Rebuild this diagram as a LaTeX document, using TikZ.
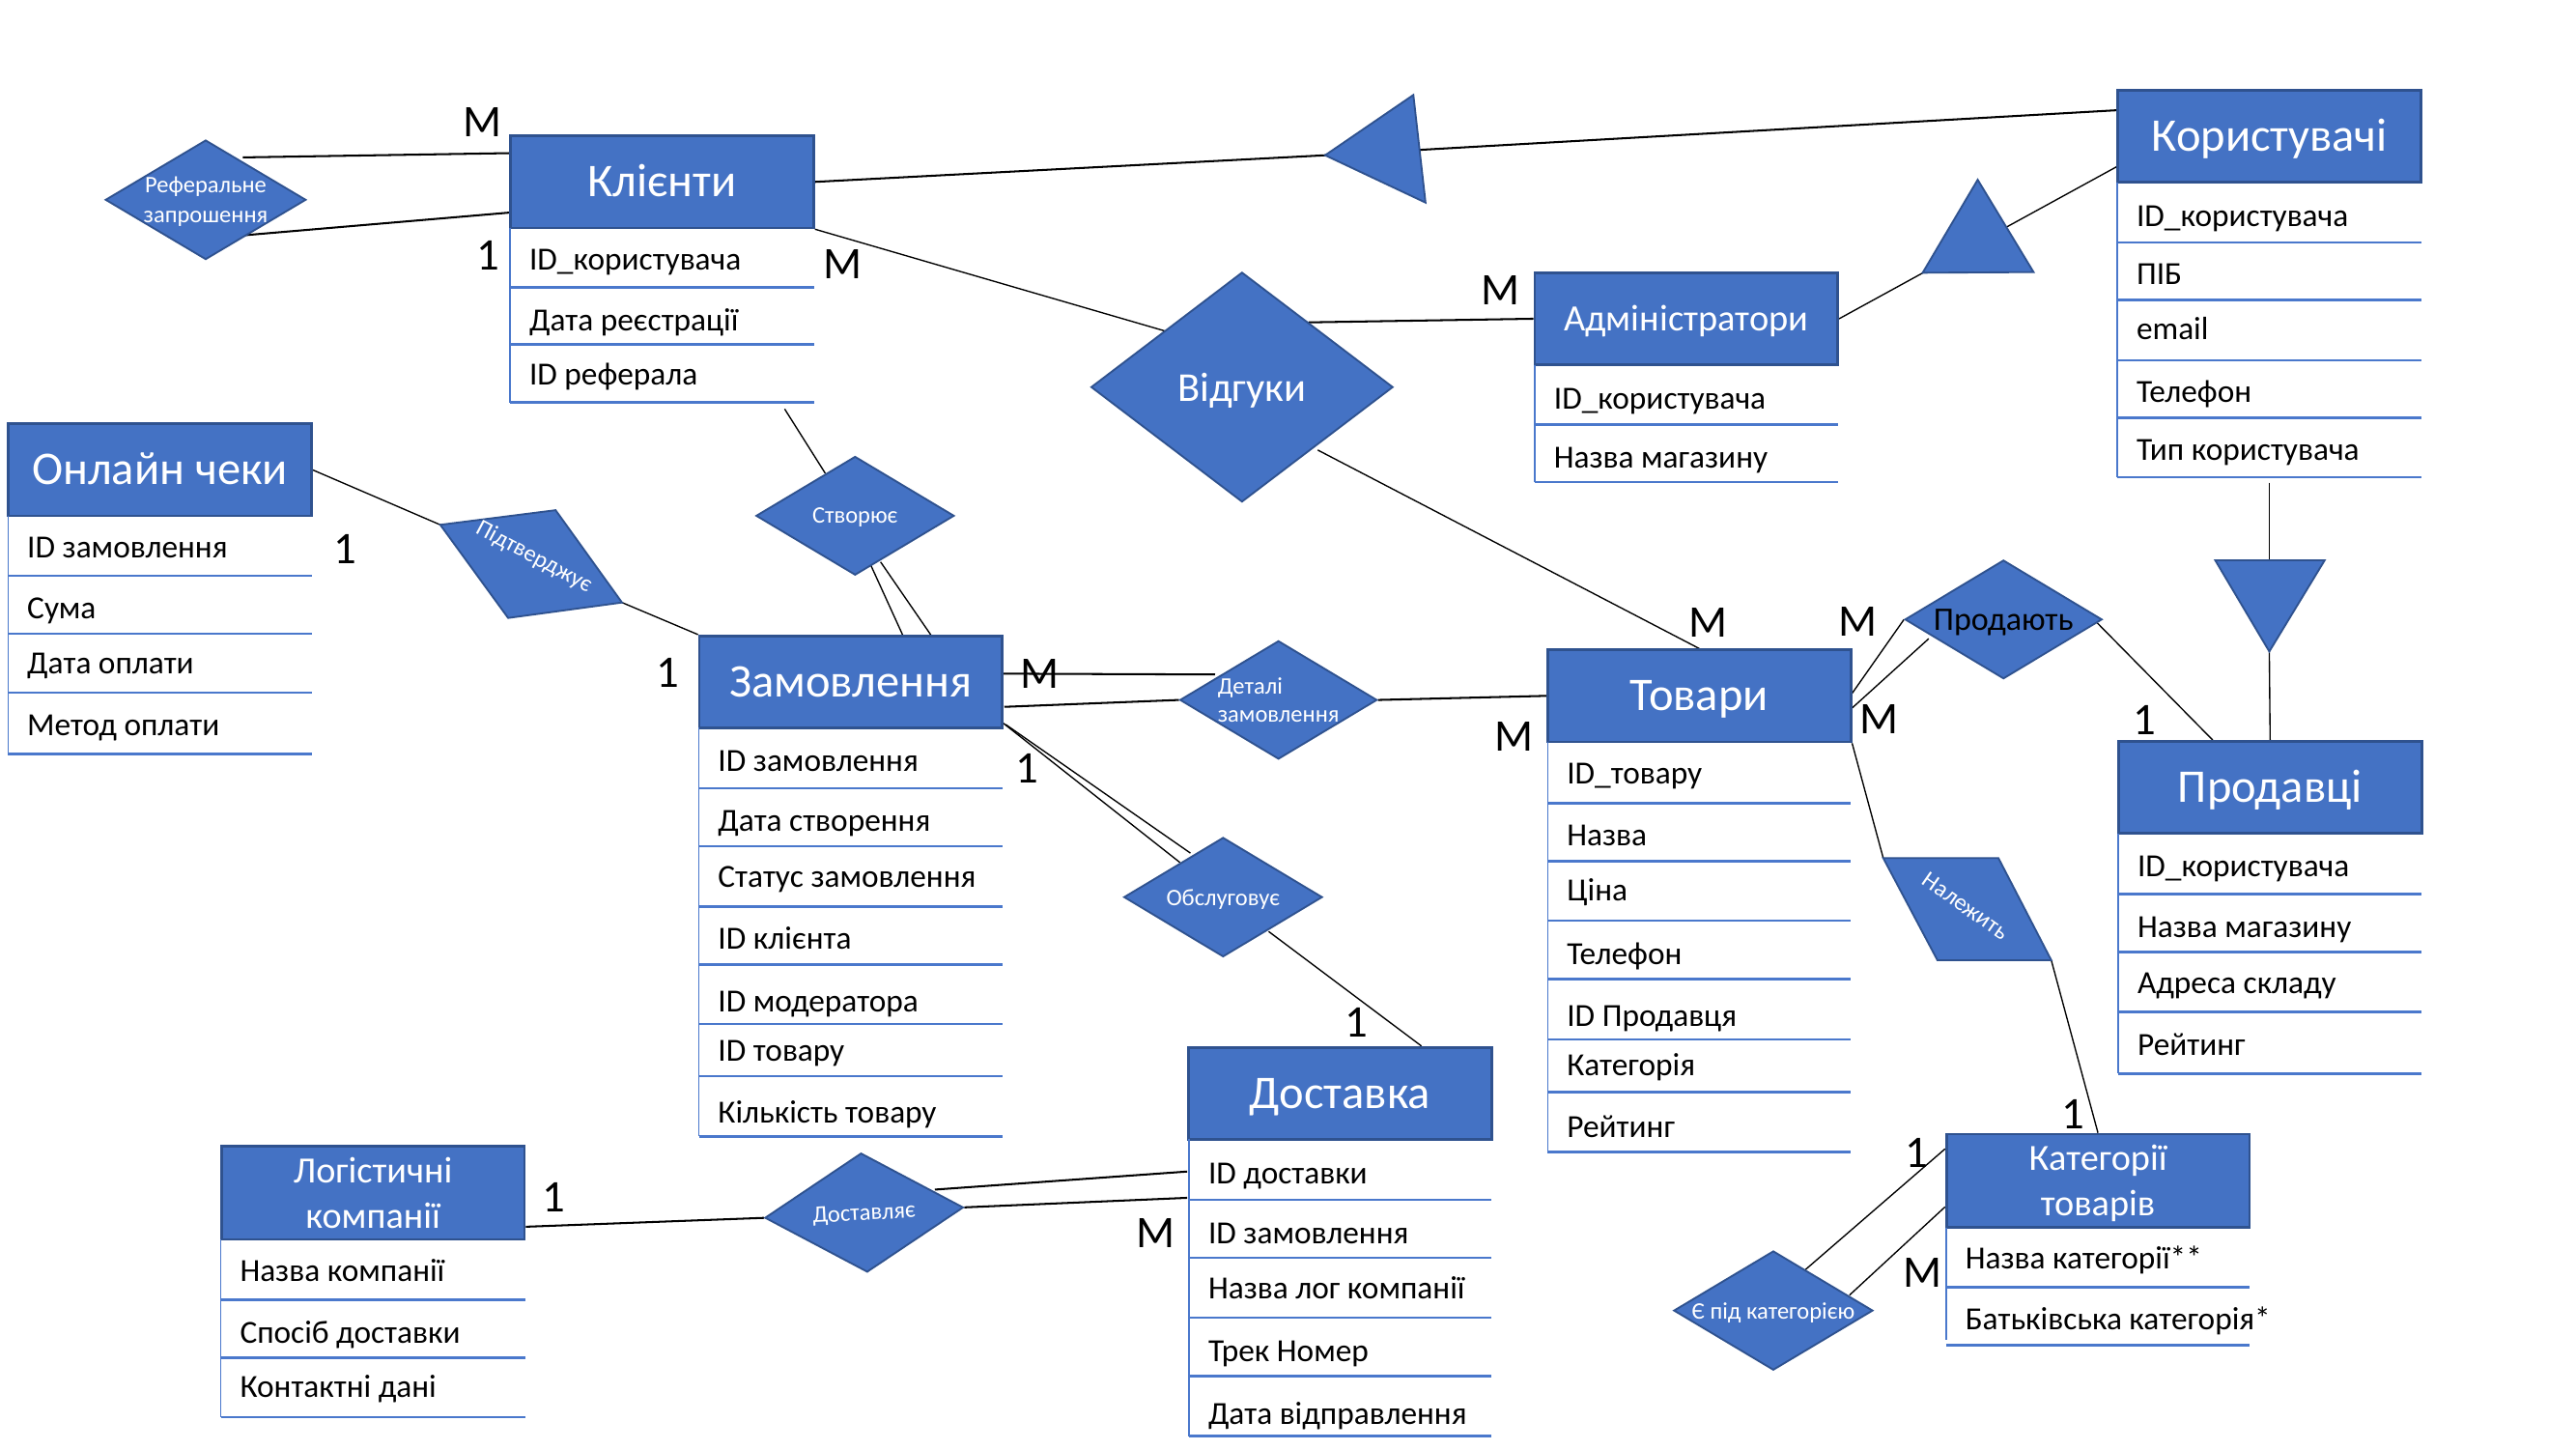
\documentclass[tikz,border=0pt]{standalone}
\usepackage{fontspec}
\setmainfont{Carlito}
\usetikzlibrary{shapes.geometric,backgrounds}
\definecolor{entfill}{HTML}{4472C4}
\definecolor{entline}{HTML}{2F528F}
\definecolor{rowline}{HTML}{4A78CC}

% attribute rows under an entity header:
% #1 name prefix, #2 left x, #3 right x, #4 header bottom y, #5 last line y, #6 rows text/centre y/rule y
\newcommand{\attrrows}[6]{%
  \draw[vline] (#2,#4) -- (#2,#5);
  \foreach \t/\ty/\sy [count=\i] in {#6} {
    \node[attr] (#1-\i) at (#2+11.5,\ty+6.1) {\t};
    \draw[rowrule] (#2,\sy) -- (#3,\sy);
  }%
}

\tikzset{
  ent/.style={draw=entline, fill=entfill, line width=1.6pt, text=white,
    minimum width=184.5pt, minimum height=56pt, inner sep=0pt,
    font=\fontsize{28.5}{34}\selectfont, text height=18pt, text depth=0pt},
  enttwo/.style={draw=entline, fill=entfill, line width=1.6pt, text=white,
    minimum width=184.5pt, minimum height=56.5pt, inner sep=0pt, align=center,
    font=\fontsize{22.5}{27.4}\selectfont, text depth=0pt},
  attr/.style={anchor=base west, inner sep=0pt, font=\fontsize{19.6}{23}\selectfont},
  rowrule/.style={draw=rowline, line width=1.5pt},
  vline/.style={draw=rowline, line width=0.8pt},
  rel/.style={diamond, aspect=1.68, draw=entline, fill=entfill, line width=1.1pt, text=white,
    inner sep=0pt, align=center, text depth=0pt,
    font=\fontsize{14.4}{18}\selectfont},
  rellabel/.style={inner sep=0pt, text=white, font=\fontsize{14.4}{18}\selectfont},
  isa/.style={draw=entline, fill=entfill, line width=1.1pt, line join=miter},
  conn/.style={draw=black, line width=0.8pt},
  heavy/.style={draw=black, line width=1.2pt},
  card/.style={inner sep=0pt, font=\fontsize{27.5}{30}\selectfont}
}

\begin{document}
\begin{tikzpicture}[x=1pt,y=-1pt]
\path[use as bounding box] (0,0) rectangle (1568,882);

% ---------- entity headers ----------
\node[ent] (klienty) at (403,110.7) {Клієнти};
\node[ent] (cheky) at (97.3,286) {Онлайн чеки};
\node[ent] (zamovl) at (517.9,415) {Замовлення};
\node[ent, font=\fontsize{22.6}{26}\selectfont, text height=14.2pt] (admin) at (1026.4,194) {Адміністратори};
\node[ent] (korys) at (1381.4,83) {Користувачі};
\node[ent] (tovary) at (1034.3,423.5) {Товари};
\node[ent] (prodav) at (1381.8,479.2) {Продавці};
\node[ent] (dostav) at (815.7,665.4) {Доставка};
\node[enttwo] (logist) at (227,726) {Логістичні\\компанії};
\node[enttwo] (kateg) at (1277,718.5) {Категорії\\товарів};

% ---------- attribute lists ----------
\attrrows{kl}{310.5}{495.4}{138.5}{245}{ID\_користувача/158.4/175, Дата реєстрації/195.5/209.5, ID реферала/228/245}
\attrrows{ch}{4.9}{189.7}{314}{459}{ID замовлення/333.4/350.3, Сума/370.2/385.6, Дата оплати/404.2/421.5, Метод оплати/441.5/459}
\attrrows{zm}{425.4}{610.3}{443}{691.6}{ID замовлення/463.2/479.7, Дата створення/500/515, Статус замовлення/534/551.7, ID клієнта/571.7/587, ID модератора/609.8/623.2, ID товару/640/655, Кількість товару/677.5/691.6}
\attrrows{ad}{934.2}{1118.6}{222}{293.3}{ID\_користувача/242.8/258.3, Назва магазину/278.7/293.3}
\attrrows{ks}{1288.8}{1474}{111}{290.4}{ID\_користувача/131.5/147.6, ПІБ/167/182.5, email/200.7/219.2, Телефон/238.5/254.3, Тип користувача/273.8/290.4}
\attrrows{tv}{942.1}{1126.5}{451.4}{701}{ID\_товару/470.9/488.7, Назва/508.8/524.1, Ціна/542.1/560.4, Телефон/581.2/595.8, ID Продавця/618.5/632.6, Категорія/648.5/664.8, Рейтинг/686.1/701}
\attrrows{pr}{1289.4}{1474.2}{507.5}{653.4}{ID\_користувача/527.7/544.1, Назва магазину/564.4/579.5, Адреса складу/598.5/616, Рейтинг/636/653.4}
\attrrows{ds}{723.8}{907.6}{693.3}{874}{ID доставки/714.3/730.3, ID замовлення/751.1/765.6, Назва лог компанії/784.2/802, Трек Номер/822.6/837.5, Дата відправлення/860.9/874}
\attrrows{lg}{134.4}{319.7}{754.5}{862.6}{Назва компанії/774/791.1, Спосіб доставки/811.3/826.4, Контактні дані/844.6/862.6}
\attrrows{kt}{1184.6}{1369.4}{747}{815.5}{Назва категорії**/766.2/783.5, Батьківська категорія*/803.4/818.7}

% ---------- relationships ----------
\node[rel, minimum width=120.8pt, minimum height=71pt] (referal) at (125.2,121.6) {Реферальне\\запрошення};
\node[rel, aspect=1.315, minimum width=183.8pt, minimum height=139.8pt, font=\fontsize{25}{30}\selectfont] (vidguky) at (756,235.6) {Відгуки};
\node[rel, minimum width=120.6pt, minimum height=72.2pt] (stvor) at (520.5,313.9) {Створює};
\node[rel, minimum width=120pt, minimum height=72pt, align=left, font=\fontsize{14.4}{17.5}\selectfont] (detali) at (778.2,426) {Деталі\\замовлення};
\node[rel, minimum width=120.8pt, minimum height=72.6pt] (obslug) at (744.5,546) {Обслуговує};
\node[rel, minimum width=120pt, minimum height=72.2pt, text=black, font=\fontsize{20}{23}\selectfont] (prodaut) at (1219.5,377) {Продають};
\node[rel, minimum width=121.2pt, minimum height=72.5pt] (pidkat) at (1079.4,797.6) {Є під категорією};
\node[rel, minimum width=121pt, minimum height=72.5pt, rotate=3] (dostavl) at (526,738) {Доставляє};

% slanted relationship boxes
\coordinate (pt1) at (268,319.4);
\coordinate (pt2) at (338.2,310.5);
\coordinate (pt3) at (378.6,366.7);
\coordinate (pt4) at (309.3,376.1);
\filldraw[isa] (pt1) -- (pt2) -- (pt3) -- (pt4) -- cycle;
\node[rellabel, rotate=-28] (pidtv) at (325,339) {Підтверджує};

\coordinate (nl1) at (1146.3,522.2);
\coordinate (nl2) at (1216.4,522.2);
\coordinate (nl3) at (1248.6,584.4);
\coordinate (nl4) at (1179.3,584.4);
\filldraw[isa] (nl1) -- (nl2) -- (nl3) -- (nl4) -- cycle;
\node[rellabel, rotate=-35] (nalezh) at (1196.6,551.4) {Належить};

% generalisation triangles
\coordinate (t1l) at (806.6,94.5);
\coordinate (t1t) at (860.3,57.8);
\coordinate (t1b) at (867.7,123.3);
\coordinate (t2t) at (1203.8,109.4);
\coordinate (t2l) at (1170.3,166);
\coordinate (t2r) at (1237.8,165.6);
\coordinate (t3l) at (1348.4,341);
\coordinate (t3r) at (1415,341);
\coordinate (t3b) at (1381.3,396.5);
\coordinate (t3top) at (1381.3,341);
\coordinate (korys-end) at (1381.3,293.7);
\coordinate (klienty-end) at (477.6,248.9);

\filldraw[isa] (t1l) -- (t1t) -- (t1b) -- cycle;
\filldraw[isa] (t2t) -- (t2l) -- (t2r) -- cycle;
\filldraw[isa] (t3l) -- (t3r) -- (t3b) -- cycle;

% ---------- connectors ----------
\begin{scope}[on background layer]
\fill[white] (0,0) rectangle (1568,882);
\draw[heavy] ([shift={(22.6,-25.8)}]referal.center) -- ([shift={(0,-17.5)}]klienty.west);
\draw[heavy] ([shift={(23.3,21.6)}]referal.center) -- ([shift={(0,18.7)}]klienty.west);
\draw[heavy] (klienty.east) -- (t1l);
\draw[heavy] (t1l) -- ([shift={(0,-15.9)}]korys.west);
\draw[conn] (klienty.south east) -- ([shift={(-45,-33.6)}]vidguky.center);
\draw[heavy] ([shift={(40.5,-39.4)}]vidguky.center) -- (admin.west);
\draw[conn] ([shift={(46.1,38.3)}]vidguky.center) -- (tovary.north);
\draw[conn] (admin.east) -- ([shift={(0,18.5)}]korys.west);
\draw[conn] (korys-end) -- (t3top);
\draw[conn] (t3b) -- (prodav.north);
\draw[conn] (klienty-end) -- ([shift={(-18.2,-25.9)}]stvor.center);
\draw[conn] ([shift={(8.2,27.1)}]stvor.center) -- ([shift={(31.8,-28)}]zamovl.center);
\draw[conn] ([shift={(15.5,28.1)}]stvor.center) -- ([shift={(49.1,-28)}]zamovl.center);
\draw[conn] (cheky.east) -- (pt1);
\draw[conn] (pt3) -- (zamovl.north west);
\draw[heavy] ([shift={(91.2,-5)}]zamovl.center) -- ([shift={(-38.6,-15.5)}]detali.center);
\draw[heavy] ([shift={(93.4,15.2)}]zamovl.center) -- (detali.west);
\draw[heavy] (detali.east) -- (tovary.west);
\draw[conn] ([shift={(91.2,23.9)}]zamovl.center) -- ([shift={(-26.3,-21.1)}]obslug.center);
\draw[conn] ([shift={(94.2,25.9)}]zamovl.center) -- ([shift={(-19.9,-26.8)}]obslug.center);
\draw[conn] ([shift={(27.7,20.9)}]obslug.center) -- ([shift={(49.5,0)}]dostav.north);
\draw[conn] ([shift={(0,-1.5)}]tovary.east) -- (prodaut.west);
\draw[conn] ([shift={(-6.5,13.3)}]tovary.east) -- ([shift={(-45.5,11.7)}]prodaut.center);
\draw[conn] ([shift={(54,-1)}]prodaut.center) -- ([shift={(58.1,0)}]prodav.north west);
\draw[conn] (tovary.south east) -- (nl1);
\draw[conn] (nl3) -- (kateg.north);
\draw[conn] ([shift={(18.4,-23.9)}]pidkat.center) -- ([shift={(0,-19.3)}]kateg.west);
\draw[conn] ([shift={(46.4,-9.4)}]pidkat.center) -- ([shift={(0,16)}]kateg.west);
\draw[heavy] ([shift={(0,20.6)}]logist.east) -- (dostavl.west);
\draw[heavy] ([shift={(43,-14)}]dostavl.center) -- ([shift={(0,47.6)}]dostav.west);
\draw[heavy] (dostavl.east) -- ([shift={(0,63.6)}]dostav.west);
\end{scope}

% ---------- cardinalities ----------
\node[card] (m1) at (293.6,74.4) {M};
\node[card] (o1) at (297,155.5) {1};
\node[card] (m2) at (513,161) {M};
\node[card] (m3) at (913.5,176.7) {M};
\node[card] (o2) at (210.3,334.3) {1};
\node[card] (o3) at (406.2,409.5) {1};
\node[card] (m4) at (632.7,410) {M};
\node[card] (o4) at (625.2,467.7) {1};
\node[card] (m5) at (921.4,448) {M};
\node[card] (m6) at (1039.9,379) {M};
\node[card] (m7) at (1131.1,378.3) {M};
\node[card] (m8) at (1143.5,438) {M};
\node[card] (o5) at (1305.1,438.5) {1};
\node[card] (o6) at (1261.8,678.2) {1};
\node[card] (o7) at (825.5,622) {1};
\node[card] (o8) at (1166.7,701.5) {1};
\node[card] (m9) at (1170,774.5) {M};
\node[card] (o9) at (337,728.5) {1};
\node[card] (m10) at (703.5,750.6) {M};
\end{tikzpicture}
\end{document}
